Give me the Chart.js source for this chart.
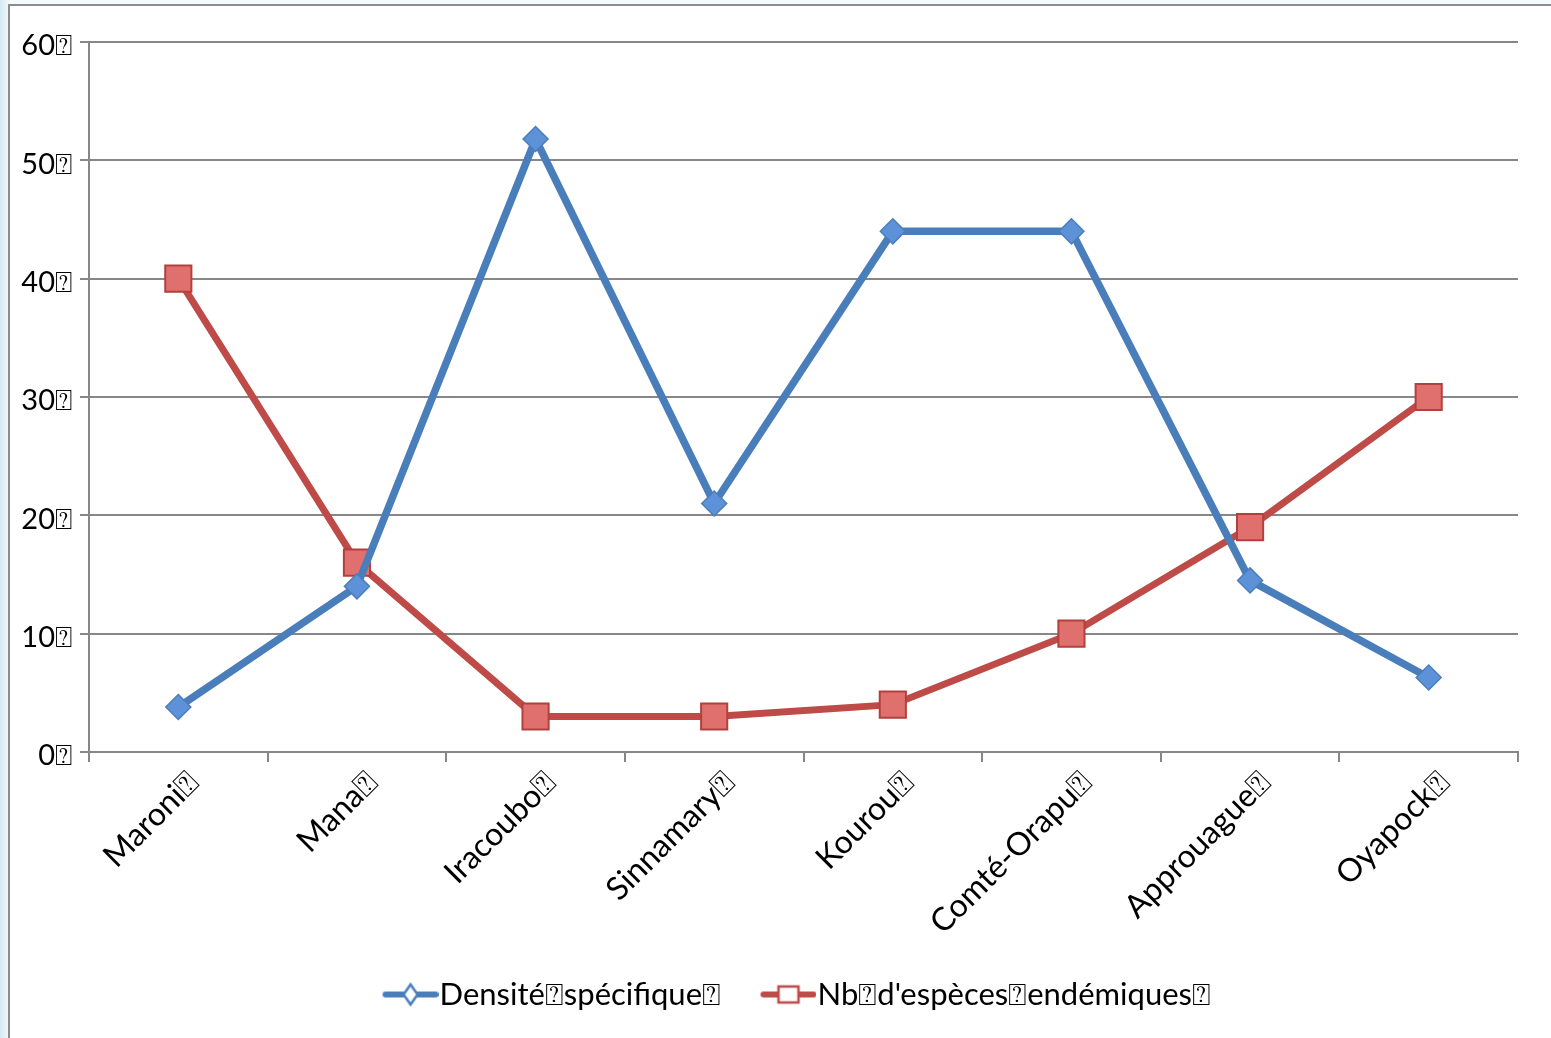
<!DOCTYPE html>
<html><head><meta charset="utf-8">
<script src="https://cdn.jsdelivr.net/npm/chart.js@4/dist/chart.umd.min.js"></script>
<style>html,body{margin:0;padding:0;background:#fff;overflow:hidden}canvas{display:block}</style>
</head><body><canvas id="c" width="1551" height="1038"></canvas>
<script>
const categories = ["Maroni⍰","Mana⍰","Iracoubo⍰","Sinnamary⍰","Kourou⍰","Comté-Orapu⍰","Approuague⍰","Oyapock⍰"];
const densite = [3.8, 14, 51.8, 21, 44, 44, 14.5, 6.3];
const endemiques = [40, 16, 3, 3, 4, 10, 19, 30];
const seriesNames = ["Densité⍰spécifique⍰", "Nb⍰d'espèces⍰endémiques⍰"];
const yTickValues = [0, 10, 20, 30, 40, 50, 60];

const FONT = "Lato, 'Open Sans', sans-serif";
const BLUE = '#4a7ebb', BLUE_FILL = '#5d92d8';
const RED = '#be4b48', RED_FILL = '#e0706d', RED_EDGE = '#b3403d';
const GRID = '#878787';
const LEGEND_SIZE = 31;
const LEGEND_BOX = 42;
const LEGEND_PAD = 39;
const ICON_W = 71;
const LEGEND_SHIFT = -7;

function legendIcon(kind) {
  const c = document.createElement('canvas');
  c.width = ICON_W; c.height = 26;
  const g = c.getContext('2d');
  const o = ICON_W - 56;
  g.lineCap = 'round';
  g.lineWidth = 6;
  g.strokeStyle = kind === 'diamond' ? BLUE : RED;
  g.beginPath(); g.moveTo(o + 3, 13); g.lineTo(o + 53, 13); g.stroke();
  g.lineWidth = 2.5;
  g.fillStyle = '#fff';
  if (kind === 'diamond') {
    g.beginPath(); g.moveTo(o + 28, 3); g.lineTo(o + 35, 13); g.lineTo(o + 28, 23); g.lineTo(o + 21, 13); g.closePath();
    g.fill(); g.stroke();
  } else {
    g.beginPath(); g.rect(o + 18, 5, 20, 16); g.fill(); g.stroke();
  }
  return c;
}
const icons = [legendIcon('diamond'), legendIcon('square')];

const framePlugin = {
  id: 'frame',
  afterLayout(chart) {
    if (chart.legend) { chart.legend.left += LEGEND_SHIFT; chart.legend.right += LEGEND_SHIFT; }
  },
  beforeDraw(chart) {
    const ctx = chart.ctx, W = chart.width, H = chart.height;
    ctx.save();
    const gl = ctx.createLinearGradient(0, 0, 9, 0);
    gl.addColorStop(0, '#d4eaf2'); gl.addColorStop(1, '#f2f9fc');
    ctx.fillStyle = gl; ctx.fillRect(0, 0, 9, H);
    ctx.fillStyle = '#f4fbfd'; ctx.fillRect(9, 0, W - 9, 5);
    ctx.fillStyle = '#fff'; ctx.fillRect(10, 6, W - 10, H - 6);
    ctx.strokeStyle = '#8d8d8d'; ctx.lineWidth = 2;
    ctx.beginPath(); ctx.moveTo(9, H); ctx.lineTo(9, 5); ctx.lineTo(W, 5); ctx.stroke();
    ctx.restore();
  }
};

const PAD_BOTTOM = 18;
const X_AXIS_H = 188;

new Chart(document.getElementById('c'), {
  type: 'line',
  data: {
    labels: categories,
    datasets: [
      {
        label: seriesNames[0], data: densite,
        borderColor: BLUE, borderWidth: 7.5, backgroundColor: BLUE_FILL,
        pointStyle: 'rectRot', pointRadius: 12.5, pointBackgroundColor: BLUE_FILL,
        pointBorderColor: BLUE, pointBorderWidth: 1.5, tension: 0
      },
      {
        label: seriesNames[1], data: endemiques,
        borderColor: RED, borderWidth: 7, backgroundColor: RED_FILL,
        pointStyle: 'rect', pointRadius: 18.5, pointBackgroundColor: RED_FILL,
        pointBorderColor: RED_EDGE, pointBorderWidth: 2, tension: 0
      }
    ]
  },
  options: {
    responsive: false, animation: false,
    layout: { padding: { left: 0, top: 42, right: 33, bottom: PAD_BOTTOM } },
    plugins: {
      tooltip: { enabled: false },
      legend: {
        position: 'bottom', fullSize: false,
        labels: {
          color: '#000', font: { family: FONT, size: LEGEND_SIZE },
          usePointStyle: true, pointStyleWidth: LEGEND_BOX, padding: LEGEND_PAD,
          generateLabels(chart) {
            const items = Chart.defaults.plugins.legend.labels.generateLabels(chart);
            items.forEach((it, i) => { it.pointStyle = icons[i]; });
            return items;
          }
        }
      }
    },
    scales: {
      x: {
        type: 'category', offset: true,
        grid: { display: true, drawOnChartArea: false, drawTicks: true, offset: true, tickLength: 10, color: GRID, lineWidth: 2 },
        border: { display: true, color: GRID, width: 2 },
        ticks: { color: '#000', font: { family: FONT, size: 32 }, minRotation: 45, maxRotation: 45, autoSkip: false, labelOffset: 15, padding: 2 },
        afterFit(scale) { scale.height = X_AXIS_H; }
      },
      y: {
        min: 0, max: 60,
        afterBuildTicks(scale) { scale.ticks = yTickValues.map(v => ({ value: v })); },
        grid: { color: GRID, lineWidth: 2, tickLength: 9 },
        border: { display: true, color: GRID, width: 2 },
        ticks: { color: '#000', font: { family: FONT, size: 29 }, padding: 8, labelOffset: 4, callback: v => v + '⍰' },
        afterFit(scale) { scale.width = 89; }
      }
    }
  },
  plugins: [framePlugin]
});
</script>
</body></html>
